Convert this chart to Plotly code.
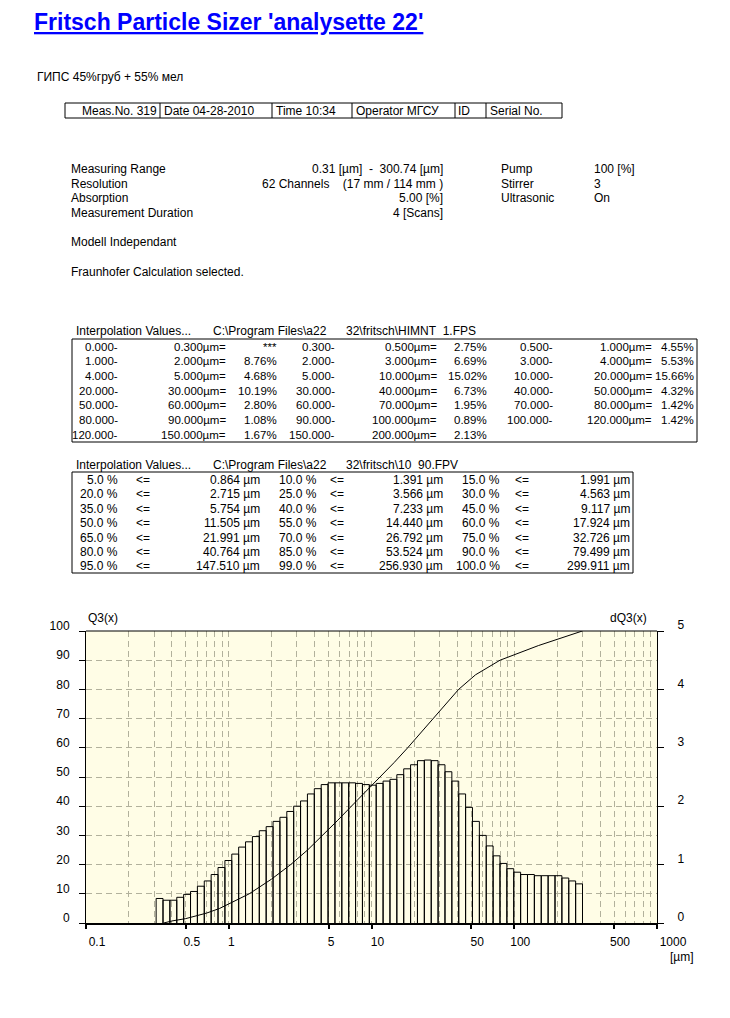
import plotly.graph_objects as go

# ---------------- data ----------------
title_text = "Fritsch Particle Sizer 'analysette 22'"
sample_name = "ГИПС 45%груб + 55% мел"
header_cells = ["Meas.No. 319", "Date 04-28-2010", "Time 10:34", "Operator МГСУ", "ID", "Serial No."]

param_labels = ["Measuring Range", "Resolution", "Absorption", "Measurement Duration"]
param_values = ["0.31 [µm]  -  300.74 [µm]", "62 Channels    (17 mm / 114 mm )", "5.00 [%]", "4 [Scans]"]
device_labels = ["Pump", "Stirrer", "Ultrasonic"]
device_values = ["100 [%]", "3", "On"]
model_text = "Modell Independant"
calc_text = "Fraunhofer Calculation selected."

interp_label = "Interpolation Values..."
interp_path = "C:\\Program Files\\a22"
interp_file1 = "32\\fritsch\\HIMNT  1.FPS"
interp_file2 = "32\\fritsch\\10  90.FPV"

class_low = [0.0, 0.3, 0.5, 1, 2, 3, 4, 5, 10, 20, 30, 40, 50, 60, 70, 80, 90, 100, 120, 150]
class_high = [0.3, 0.5, 1, 2, 3, 4, 5, 10, 20, 30, 40, 50, 60, 70, 80, 90, 100, 120, 150, 200]
class_pct = [None, 2.75, 4.55, 8.76, 6.69, 5.53, 4.68, 15.02, 15.66, 10.19,
             6.73, 4.32, 2.80, 1.95, 1.42, 1.08, 0.89, 1.42, 1.67, 2.13]

pct_levels = [5, 10, 15, 20, 25, 30, 35, 40, 45, 50, 55, 60, 65, 70, 75, 80, 85, 90, 95, 99, 100]
pct_sizes = [0.864, 1.391, 1.991, 2.715, 3.566, 4.563, 5.754, 7.233, 9.117, 11.505, 14.440,
             17.924, 21.991, 26.792, 32.726, 40.764, 53.524, 79.499, 147.510, 256.930, 299.911]

# start of the cumulative curve
q3_lead_x = [0.35, 0.4, 0.5, 0.6, 0.7]
q3_lead_y = [0.0, 0.7, 1.5, 2.5, 3.4]

# channel edges (µm) and density dQ3 per channel
channel_edges = [0.3100, 0.3463, 0.3870, 0.4324, 0.4831, 0.5398, 0.6031, 0.6738, 0.7528, 0.8411,
                 0.9399, 1.0502, 1.1734, 1.3110, 1.4648, 1.6367, 1.8287, 2.0432, 2.2829, 2.5508,
                 2.8500, 3.1844, 3.5579, 3.9753, 4.4417, 4.9628, 5.5450, 6.1955, 6.9224, 7.7345,
                 8.6418, 9.6553, 10.788, 12.054, 13.468, 15.048, 16.813, 18.786, 20.989, 23.452,
                 26.203, 29.276, 32.711, 36.548, 40.835, 45.626, 50.978, 56.958, 63.640, 71.105,
                 79.445, 88.765, 99.18, 110.81, 123.81, 138.34, 154.56, 172.70, 192.96, 215.59,
                 240.88, 269.14, 300.74]
dq3 = [0.42, 0.39, 0.39, 0.44, 0.49, 0.54, 0.63, 0.72, 0.83, 0.95,
       1.07, 1.18, 1.30, 1.39, 1.48, 1.58, 1.65, 1.74, 1.81, 1.91,
       2.00, 2.09, 2.21, 2.30, 2.37, 2.40, 2.40, 2.40, 2.40, 2.39,
       2.37, 2.36, 2.39, 2.43, 2.46, 2.54, 2.64, 2.71, 2.78, 2.79,
       2.78, 2.71, 2.59, 2.43, 2.21, 1.98, 1.74, 1.50, 1.32, 1.15,
       1.02, 0.93, 0.87, 0.83, 0.83, 0.81, 0.81, 0.81, 0.81, 0.77,
       0.72, 0.67]

x_tick_vals = [0.1, 0.5, 1, 5, 10, 50, 100, 500, 1000]
x_tick_text = ["\u00a0\u00a0\u00a00.1", "0.5", "1\u00a0\u00a0", "5\u00a0\u00a0", "10", "50",
               "100", "500", "\u00a0\u00a0\u00a0\u00a0\u00a0\u00a01000"]
x_minor_vals = [m * d for d in (0.1, 1, 10, 100) for m in range(2, 10)]
q3_ticks = list(range(0, 101, 10))
dq3_ticks = [0, 1, 2, 3, 4, 5]

# ---------------- layout geometry (pixels) ----------------
W, H = 730, 1018
PL, PR, PT, PB = 86, 657, 631, 923
FONT = "Liberation Sans, Arial, sans-serif"
BG = "#FFFDE6"
GRID = "#B2B19C"
DASH = "6px,4px"


def px(x):
    return (x - PL) / (PR - PL)


def py(y):
    return (PB - y) / (PB - PT)


def nb(s):
    return s.replace("  ", "\u00a0\u00a0")


annotations = []


def txt(x, y, s, anchor="left", size=12, color="black"):
    annotations.append(dict(xref="paper", yref="paper", x=px(x), y=py(y), text=nb(s),
                            xanchor=anchor, yanchor="middle", showarrow=False,
                            borderpad=0, borderwidth=0,
                            font=dict(family=FONT, size=size, color=color)))


shapes = []


def rect(x0, y0, x1, y1):
    shapes.append(dict(type="rect", xref="paper", yref="paper", x0=px(x0), x1=px(x1),
                       y0=py(y0), y1=py(y1), line=dict(color="black", width=1)))


def vline(x, y0, y1, width=1):
    shapes.append(dict(type="line", xref="paper", yref="paper", x0=px(x), x1=px(x),
                       y0=py(y0), y1=py(y1), line=dict(color="black", width=width)))


# title & sample
txt(34, 22, "<b><u>" + title_text + "</u></b>", size=23, color="#0000FF")
txt(37, 77, sample_name)

# header table
rect(65, 103, 562, 118)
for xd in [160, 272, 352, 455, 486]:
    vline(xd, 103, 118)
txt(157, 110.5, header_cells[0], anchor="right")
for xs, s in zip([164, 276, 356, 458, 490], header_cells[1:]):
    txt(xs, 110.5, s)

# parameters
for i, (lab, val) in enumerate(zip(param_labels, param_values)):
    yy = 169 + i * 14.7
    txt(71, yy, lab)
    txt(443, yy, val, anchor="right")
for i, (lab, val) in enumerate(zip(device_labels, device_values)):
    yy = 169 + i * 14.7
    txt(501, yy, lab)
    txt(594, yy, val)
txt(71, 242, model_text)
txt(71, 272, calc_text)

# interpolation table 1
txt(76, 331, interp_label)
txt(213, 331, interp_path)
txt(346, 331, interp_file1)
rect(72, 339, 697, 442)
t1_cols = [(118, 226, 277), (335, 437, 487), (553, 652, 694)]
for k in range(len(class_low)):
    r, g = divmod(k, 3)
    yy = 346.5 + r * 14.7
    c = t1_cols[g]
    txt(c[0], yy, f"{class_low[k]:.3f}-", anchor="right", size=11.5)
    txt(c[1], yy, f"{class_high[k]:.3f}µm=", anchor="right", size=11.5)
    ptxt = "***" if class_pct[k] is None else f"{class_pct[k]:.2f}%"
    txt(c[2], yy, ptxt, anchor="right", size=11.5)

# interpolation table 2
txt(76, 465, interp_label)
txt(213, 465, interp_path)
txt(346, 465, interp_file2)
rect(72, 472, 633, 573)
t2_cols = [(118, 136, 260), (317, 330, 443), (500, 515, 630)]
for k in range(len(pct_levels)):
    r, g = divmod(k, 3)
    yy = 480 + r * 14.4
    c = t2_cols[g]
    txt(c[0], yy, f"{pct_levels[k]:.1f} %", anchor="right")
    txt(c[1], yy, "<=")
    txt(c[2], yy, f"{pct_sizes[k]:.3f} µm", anchor="right")

# chart labels
txt(88, 618, "Q3(x)")
txt(647, 618, "dQ3(x)", anchor="right")
txt(682, 957, "[µm]", anchor="center")

# top border of plot
shapes.append(dict(type="line", xref="paper", yref="paper", x0=0, x1=1, y0=1, y1=1,
                   line=dict(color="black", width=1)))

# ---------------- traces ----------------
bx, by = [], []
for i, h in enumerate(dq3):
    bx += [channel_edges[i], channel_edges[i], channel_edges[i + 1], channel_edges[i + 1], None]
    by += [0, h, h, 0, None]

fig = go.Figure()
fig.add_trace(go.Scatter(x=bx, y=by, mode="lines", yaxis="y2",
                         line=dict(color="black", width=1), hoverinfo="skip",
                         showlegend=False))
fig.add_trace(go.Scatter(x=q3_lead_x + pct_sizes, y=q3_lead_y + pct_levels, mode="lines",
                         line=dict(color="black", width=1), showlegend=False))

axis_font = dict(family=FONT, size=12, color="black")
fig.update_layout(
    width=W, height=H,
    margin=dict(l=PL, r=W - PR, t=PT, b=H - PB, pad=0),
    paper_bgcolor="white", plot_bgcolor=BG,
    showlegend=False,
    font=dict(family=FONT, size=12, color="black"),
    xaxis=dict(type="log", range=[-1, 3], tickmode="array", tickvals=x_tick_vals,
               ticktext=x_tick_text, ticks="outside", ticklen=4, tickwidth=2,
               tickcolor="black", showline=True, linecolor="black", linewidth=2,
               showgrid=True, gridcolor=GRID, griddash=DASH, gridwidth=1,
               minor=dict(tickmode="array", tickvals=x_minor_vals, showgrid=True,
                          gridcolor=GRID, griddash=DASH, gridwidth=1, ticks=""),
               zeroline=False, tickfont=axis_font, ticklabelshift=6,
               ticklabelstandoff=3, fixedrange=True),
    yaxis=dict(range=[0, 100], tickmode="array", tickvals=q3_ticks, ticks="outside",
               ticklen=6, tickwidth=1, tickcolor="black", showline=True,
               linecolor="black", linewidth=1, showgrid=True, gridcolor=GRID,
               griddash=DASH, gridwidth=1, zeroline=False, tickfont=axis_font,
               ticklabelshift=-5, ticklabelstandoff=7, fixedrange=True),
    yaxis2=dict(range=[0, 5], tickmode="array", tickvals=dq3_ticks, overlaying="y",
                side="right", ticks="outside", ticklen=6, tickwidth=1,
                tickcolor="black", showline=True, linecolor="black", linewidth=1,
                showgrid=False, zeroline=False, tickfont=axis_font,
                ticklabelshift=-6, ticklabelstandoff=11, fixedrange=True),
    annotations=annotations,
    shapes=shapes,
)

fig.write_html("out.html", config={"displayModeBar": False, "staticPlot": True},
               post_script="document.body.style.margin='0';")
